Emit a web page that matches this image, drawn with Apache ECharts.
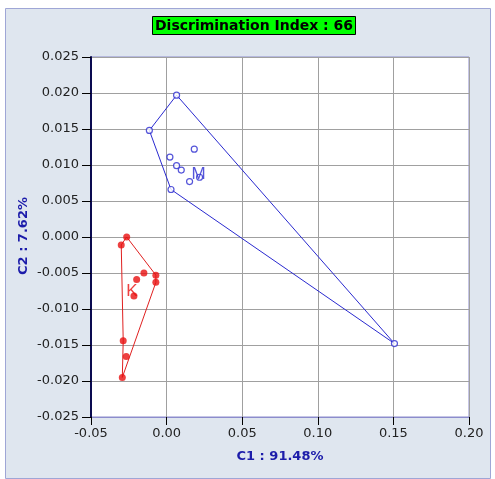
<!DOCTYPE html>
<html><head><meta charset="utf-8">
<script src="https://cdn.jsdelivr.net/npm/echarts@6/dist/echarts.min.js"></script>
<style>html,body{margin:0;padding:0;background:#fff}#c{width:495px;height:479px}</style>
</head><body><div id="c"></div>
<script>
// Group M (blue) scores
const mX = [0.0066, -0.0114, 0.0029, 0.0022, 0.0183, 0.0066, 0.0097, 0.0152, 0.1507];
const mY = [0.0197, 0.0148, 0.0066, 0.0111, 0.0122, 0.0099, 0.0093, 0.0077, -0.0148];
const mHull = [0, 8, 2, 1, 0];
const mCentroid = [0.0218, 0.0083];
// Group K (red) scores
const kX = [-0.0264, -0.0300, -0.0150, -0.0071, -0.0198, -0.0071, -0.0287, -0.0267, -0.0293];
const kY = [0.0000, -0.0011, -0.0050, -0.0053, -0.0059, -0.0063, -0.0144, -0.0166, -0.0195];
const kHull = [1, 0, 3, 5, 8, 6, 1];
const kCentroid = [-0.0216, -0.0082];
const xTicks = [-0.05, 0.00, 0.05, 0.10, 0.15, 0.20];
const yTicks = [-0.025, -0.020, -0.015, -0.010, -0.005, 0.000, 0.005, 0.010, 0.015, 0.020, 0.025];
const titleText = 'Discrimination Index : 66';
const xName = 'C1 : 91.48%';
const yName = 'C2 : 7.62%';

const pts = (xs, ys) => xs.map((x, i) => [x, ys[i]]);
const hull = (xs, ys, idx) => idx.map(i => [xs[i], ys[i]]);

const chart = echarts.init(document.getElementById('c'));
chart.setOption({
  animation: false,
  backgroundColor: '#ffffff',
  graphic: [
    { type: 'rect', shape: { x: 5.5, y: 8.5, width: 485, height: 470 }, style: { fill: '#dfe6ef', stroke: '#9fa6d6', lineWidth: 1 }, z: -10 },
    { type: 'rect', shape: { x: 152.5, y: 16.5, width: 203, height: 18 }, style: { fill: '#00ff00', stroke: '#000', lineWidth: 1 }, z: 10 },
    { type: 'text', x: 254, y: 26, style: { text: titleText, fill: '#000', font: 'bold 14px "DejaVu Sans"', align: 'center', verticalAlign: 'middle' }, z: 11 },
    { type: 'text', x: 24, y: 236, rotation: Math.PI / 2, style: { text: yName, fill: '#1c1caa', font: 'bold 13px "DejaVu Sans"', align: 'center', verticalAlign: 'middle' }, z: 11 }
  ],
  grid: { left: 91, right: 26, top: 57, bottom: 62, show: true, backgroundColor: '#ffffff', borderColor: '#8c8ccc', borderWidth: 1 },
  xAxis: {
    type: 'value', min: -0.05, max: 0.20, interval: 0.05,
    name: xName, nameLocation: 'middle', nameGap: 33,
    nameTextStyle: { color: '#1c1caa', fontWeight: 'bold', fontSize: 13, fontFamily: 'DejaVu Sans' },
    axisLine: { show: true, onZero: false, lineStyle: { color: '#8c8ccc', width: 1 } },
    axisTick: { show: true, length: 8, lineStyle: { color: '#000' } },
    axisLabel: { color: '#222', fontSize: 13, fontFamily: 'DejaVu Sans', margin: 10, formatter: v => v.toFixed(2) },
    splitLine: { show: true, lineStyle: { color: '#a0a0a0', width: 1 } }
  },
  yAxis: {
    type: 'value', min: -0.025, max: 0.025, interval: 0.005,
    axisLine: { show: true, onZero: false, lineStyle: { color: '#0a0a50', width: 2 } },
    axisTick: { show: true, length: 9, lineStyle: { color: '#000' } },
    axisLabel: { color: '#222', fontSize: 13, fontFamily: 'DejaVu Sans', margin: 12, formatter: v => v.toFixed(3) },
    splitLine: { show: true, lineStyle: { color: '#a0a0a0', width: 1 } }
  },
  series: [
    { type: 'line', data: hull(mX, mY, mHull), showSymbol: false, lineStyle: { color: '#2a2ad0', width: 1 }, z: 3 },
    { type: 'line', data: hull(kX, kY, kHull), showSymbol: false, lineStyle: { color: '#e02020', width: 1 }, z: 3 },
    { type: 'scatter', data: pts(mX, mY), symbol: 'circle', symbolSize: 6, itemStyle: { color: '#ffffff', borderColor: '#2a2ad0', borderWidth: 1.2 }, z: 4 },
    { type: 'scatter', data: pts(kX, kY), symbol: 'circle', symbolSize: 7, itemStyle: { color: '#e81010' }, z: 4 },
    { type: 'scatter', data: [mCentroid], symbol: 'circle', symbolSize: 6, itemStyle: { color: '#ffffff', borderColor: '#2a2ad0', borderWidth: 1.2 }, z: 5,
      label: { show: true, formatter: 'M', position: 'inside', offset: [-1, -3], color: '#2a2ad0', fontSize: 17, fontFamily: 'Liberation Sans' } },
    { type: 'scatter', data: [kCentroid], symbol: 'circle', symbolSize: 7, itemStyle: { color: '#e81010' }, z: 5,
      label: { show: true, formatter: 'K', position: 'inside', offset: [-2, -5], color: '#e81010', fontSize: 17, fontFamily: 'Liberation Sans' } }
  ]
});
</script></body></html>
